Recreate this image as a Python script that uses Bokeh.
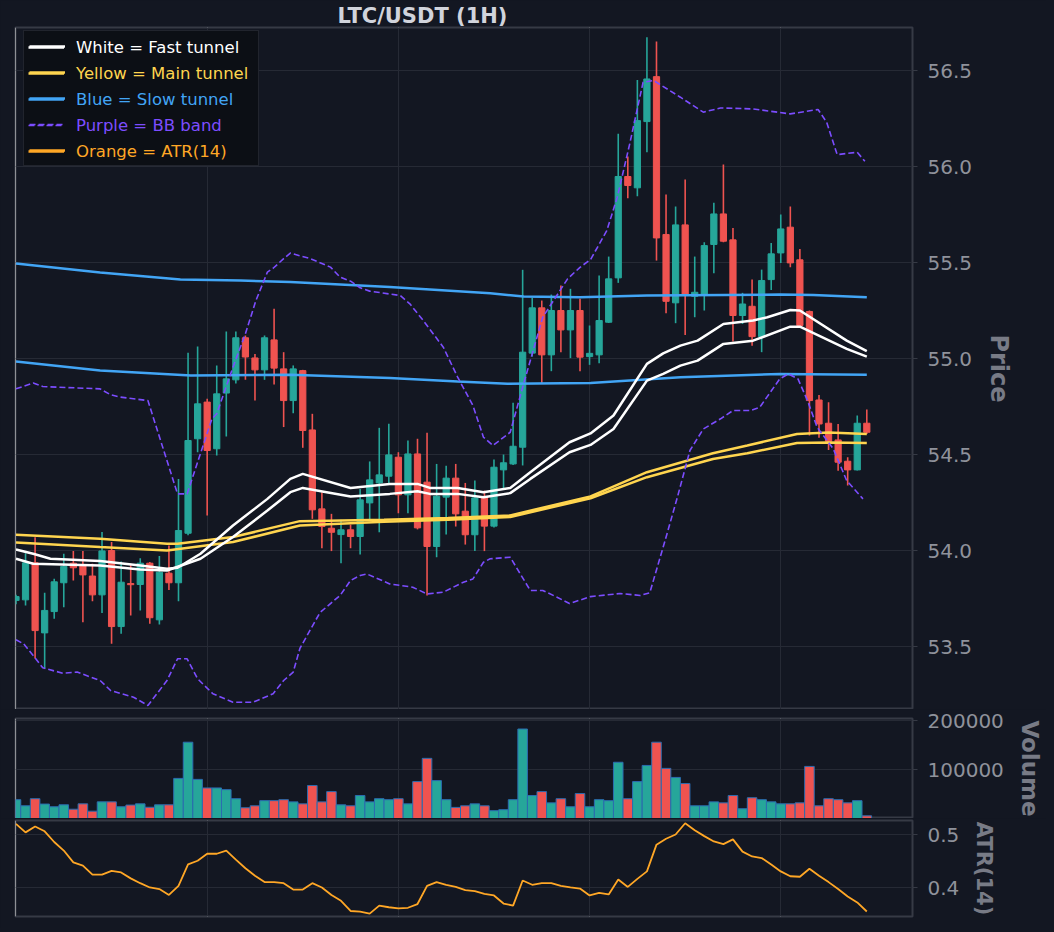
from bokeh.plotting import figure
from bokeh.models import (Range1d, Legend, LegendItem, FixedTicker, Grid,
                          NumeralTickFormatter, ColumnDataSource, GlobalInlineStyleSheet)
from bokeh.layouts import column
from bokeh.embed import file_html
from bokeh.resources import INLINE

# ---------------- data ----------------
idx = list(range(90))
opens = [53.74, 53.743, 53.936, 53.571, 53.682, 53.832, 53.934, 53.926, 53.867, 53.769,
         54.000, 53.604, 53.828, 53.823, 53.934, 53.639, 53.882, 53.832, 54.090, 54.582,
         54.773, 54.530, 54.820, 54.889, 55.108, 55.003, 54.941, 55.097, 54.946, 54.781,
         54.937, 54.628, 54.217, 54.116, 54.083, 54.108, 54.073, 54.248, 54.352, 54.387,
         54.486, 54.290, 54.503, 54.356, 54.021, 54.278, 54.377, 54.205, 54.082, 54.278,
         54.127, 54.420, 54.451, 54.538, 55.028, 55.264, 55.019, 55.250, 55.149, 55.250,
         55.010, 55.019, 55.189, 55.420, 55.948, 55.889, 56.234, 56.468, 55.646, 55.290,
         55.696, 55.324, 55.336, 55.594, 55.753, 55.618, 55.224, 55.272, 55.114, 55.411,
         55.550, 55.684, 55.514, 55.245, 54.784, 54.663, 54.576, 54.465, 54.420, 54.663]
highs = [53.77, 53.986, 54.069, 53.780, 53.853, 53.983, 53.997, 53.997, 53.931, 54.096,
         54.044, 53.943, 53.931, 53.960, 53.940, 53.971, 54.026, 54.373, 55.030, 55.062,
         54.790, 54.964, 55.141, 55.141, 55.120, 55.024, 55.120, 55.259, 55.033, 54.964,
         54.941, 54.712, 54.304, 54.191, 54.160, 54.135, 54.321, 54.464, 54.639, 54.660,
         54.512, 54.573, 54.582, 54.613, 54.451, 54.441, 54.451, 54.352, 54.365, 54.312,
         54.474, 54.500, 54.769, 55.462, 55.316, 55.302, 55.333, 55.380, 55.363, 55.311,
         55.172, 55.432, 55.531, 56.170, 56.052, 56.451, 56.673, 56.651, 55.854, 55.792,
         55.932, 55.531, 55.606, 55.811, 56.010, 55.680, 55.342, 55.411, 55.463, 55.602,
         55.750, 55.792, 55.571, 55.250, 54.810, 54.772, 54.659, 54.486, 54.703, 54.734]
lows = [53.72, 53.714, 53.438, 53.384, 53.644, 53.705, 53.844, 53.627, 53.736, 53.674,
        53.514, 53.566, 53.662, 53.688, 53.618, 53.615, 53.795, 53.736, 54.080, 54.512,
        54.183, 54.495, 54.594, 54.870, 54.889, 54.781, 54.889, 54.865, 54.643, 54.715,
        54.535, 54.165, 54.012, 53.997, 53.934, 54.012, 53.979, 54.160, 54.095, 54.342,
        54.194, 54.194, 54.110, 53.766, 53.965, 54.083, 54.125, 54.031, 53.997, 53.997,
        54.120, 54.321, 54.445, 54.443, 55.010, 54.873, 54.934, 55.033, 55.002, 54.934,
        54.967, 54.975, 55.185, 55.394, 55.835, 55.845, 56.074, 55.510, 55.236, 55.184,
        55.123, 55.215, 55.250, 55.444, 55.606, 55.088, 55.180, 55.067, 55.033, 55.357,
        55.498, 55.475, 55.165, 54.599, 54.587, 54.524, 54.416, 54.338, 54.417, 54.607]
closes = [53.76, 53.936, 53.583, 53.688, 53.837, 53.917, 53.910, 53.873, 53.769, 53.998,
          53.604, 53.835, 53.822, 53.934, 53.650, 53.887, 53.832, 54.104, 54.573, 54.764,
          54.521, 54.816, 54.894, 55.108, 55.008, 54.941, 55.108, 54.950, 54.781, 54.946,
          54.625, 54.212, 54.125, 54.095, 54.108, 54.073, 54.264, 54.368, 54.394, 54.498,
          54.290, 54.503, 54.118, 54.021, 54.283, 54.377, 54.191, 54.082, 54.274, 54.127,
          54.434, 54.457, 54.543, 55.033, 55.264, 55.019, 55.250, 55.149, 55.250, 55.007,
          55.027, 55.198, 55.415, 55.948, 55.901, 56.239, 56.456, 55.628, 55.298, 55.696,
          55.336, 55.345, 55.588, 55.753, 55.611, 55.224, 55.284, 55.114, 55.406, 55.545,
          55.675, 55.498, 55.172, 54.781, 54.659, 54.569, 54.460, 54.420, 54.663, 54.616]
volumes = [38500, 26000, 40500, 29500, 24000, 28000, 19000, 30000, 15000, 34000,
           34000, 24000, 27500, 30000, 23000, 28000, 28000, 82000, 156000, 80000,
           62500, 62500, 59000, 40500, 22000, 26000, 36500, 36500, 38500, 34000,
           30000, 67500, 34000, 55000, 28000, 26000, 47000, 34000, 40500, 38500,
           40500, 30000, 75500, 123000, 77500, 38500, 22700, 26000, 30000, 26000,
           16000, 18000, 38500, 183000, 47000, 55000, 32000, 40500, 24000, 51000,
           24000, 38500, 36500, 115000, 40500, 75500, 108500, 156000, 102500, 84000,
           71500, 26000, 26000, 34000, 32000, 47000, 20000, 42500, 38500, 34000,
           30000, 30000, 32000, 106500, 26000, 40500, 38500, 32000, 36500, 5500]
atr = [0.520, 0.504, 0.515, 0.506, 0.486, 0.470, 0.448, 0.442, 0.425, 0.425,
       0.432, 0.429, 0.418, 0.409, 0.401, 0.398, 0.387, 0.404, 0.444, 0.451,
       0.464, 0.464, 0.470, 0.453, 0.437, 0.423, 0.411, 0.411, 0.409, 0.397,
       0.397, 0.409, 0.401, 0.387, 0.376, 0.357, 0.356, 0.352, 0.367, 0.364,
       0.362, 0.363, 0.370, 0.404, 0.411, 0.406, 0.402, 0.396, 0.394, 0.389,
       0.386, 0.371, 0.367, 0.414, 0.406, 0.409, 0.409, 0.404, 0.401, 0.399,
       0.386, 0.391, 0.388, 0.416, 0.402, 0.417, 0.431, 0.481, 0.492, 0.500,
       0.521, 0.508, 0.497, 0.487, 0.482, 0.491, 0.468, 0.459, 0.456, 0.444,
       0.431, 0.422, 0.421, 0.436, 0.423, 0.411, 0.398, 0.384, 0.373, 0.356]

# tunnel / band lines (x = candle index)
slow_up_x = [0, 8.8, 17.2, 23.5, 28.7, 39.1, 49.6, 53.1, 59.0, 66.0, 79.9, 83.4, 89.0]
slow_up_y = [55.495, 55.448, 55.411, 55.406, 55.398, 55.372, 55.340, 55.323, 55.319, 55.328, 55.333, 55.331, 55.319]
slow_lo_x = [0, 8.8, 18.3, 28.7, 39.1, 46.2, 51.4, 60.1, 69.5, 79.9, 89.0]
slow_lo_y = [54.984, 54.938, 54.911, 54.915, 54.898, 54.880, 54.868, 54.873, 54.902, 54.920, 54.915]

main_up_x = [0, 8.8, 15.8, 16.9, 22.7, 29.7, 38.5, 45.2, 51.7, 60.1, 66.0, 72.9, 76.5, 81.7, 85.0, 89.0]
main_up_y = [54.082, 54.061, 54.035, 54.035, 54.070, 54.153, 54.160, 54.170, 54.183, 54.282, 54.408, 54.507, 54.547, 54.607, 54.615, 54.607]
main_lo_x = [0, 8.8, 15.8, 22.7, 29.7, 38.5, 45.2, 51.7, 60.1, 66.0, 72.9, 76.5, 81.7, 85.0, 89.0]
main_lo_y = [54.042, 54.018, 54.000, 54.044, 54.130, 54.150, 54.160, 54.175, 54.272, 54.382, 54.477, 54.507, 54.560, 54.562, 54.560]

fast_up_x = [0, 1.8, 3.6, 8.8, 13.0, 15.8, 16.9, 19.3, 22.7, 26.3, 28.7, 30.0, 35.0, 39.1, 42.0, 43.3, 46.2,
             48.9, 51.7, 53.8, 57.9, 60.1, 62.5, 66.0, 67.7, 69.5, 71.3, 74.0, 77.1, 78.6, 81.0, 82.0, 86.9, 89.0]
fast_up_y = [54.005, 53.983, 53.957, 53.945, 53.922, 53.905, 53.910, 53.983, 54.130, 54.269, 54.373, 54.399, 54.326,
             54.347, 54.347, 54.326, 54.326, 54.304, 54.326, 54.408, 54.564, 54.610, 54.703, 54.972, 55.027, 55.067,
             55.093, 55.180, 55.198, 55.215, 55.253, 55.250, 55.093, 55.038]
fast_lo_x = [0, 1.8, 8.8, 13.0, 15.8, 19.3, 22.7, 26.3, 28.7, 30.0, 35.0, 39.1, 42.0, 43.3, 46.2, 48.9, 51.7,
             53.8, 57.9, 60.1, 62.5, 66.0, 67.7, 69.5, 71.3, 74.0, 77.1, 81.0, 82.0, 86.9, 89.0]
fast_lo_y = [53.957, 53.931, 53.922, 53.901, 53.896, 53.957, 54.070, 54.208, 54.304, 54.326, 54.281, 54.295,
             54.309, 54.295, 54.295, 54.278, 54.299, 54.373, 54.512, 54.550, 54.633, 54.885, 54.920, 54.963,
             54.989, 55.076, 55.093, 55.166, 55.166, 55.050, 55.010]

bb_up_x = [0, 1.8, 2.8, 8.8, 9.9, 10.9, 13.8, 16.9, 17.9, 19.0, 20.5, 21.0, 22.7, 24.0, 25.1, 26.3, 26.9, 28.0,
           28.7, 30.8, 32.9, 33.9, 35.0, 36.0, 37.0, 40.2, 41.2, 42.6, 44.7, 46.2, 47.8, 48.9, 49.9, 51.7,
           53.1, 55.1, 57.7, 59.0, 60.1, 61.8, 62.9, 64.2, 65.6, 66.7, 69.5, 71.9, 73.7, 77.1, 81.0, 83.9,
           84.8, 85.9, 88.0, 88.8]
bb_up_y = [54.842, 54.872, 54.854, 54.842, 54.811, 54.799, 54.781, 54.295, 54.295, 54.460, 54.686, 54.712,
           54.955, 55.129, 55.302, 55.450, 55.470, 55.520, 55.549, 55.520, 55.476, 55.424, 55.403, 55.368,
           55.351, 55.328, 55.285, 55.198, 55.059, 54.903, 54.755, 54.590, 54.547, 54.616, 54.868, 55.215,
           55.415, 55.475, 55.515, 55.666, 55.840, 56.118, 56.439, 56.448, 56.361, 56.283, 56.305, 56.300,
           56.274, 56.297, 56.231, 56.062, 56.074, 56.027]
bb_lo_x = [0, 0.8, 1.8, 2.8, 4.9, 6.4, 8.8, 9.9, 12.3, 13.8, 15.8, 16.9, 17.9, 19.0, 20.6, 22.7, 24.8, 26.9,
           28.0, 29.0, 29.7, 31.8, 33.9, 35.0, 36.0, 36.7, 39.1, 41.5, 43.0, 44.7, 46.8, 47.8, 48.9, 49.6,
           51.7, 53.8, 55.1, 56.6, 57.9, 60.1, 63.2, 65.3, 66.3, 67.9, 69.2, 70.5, 71.9, 73.7, 75.0, 76.8,
           77.8, 79.9, 80.8, 81.8, 82.8, 83.8, 85.5, 86.9, 88.6]
bb_lo_y = [53.535, 53.514, 53.453, 53.389, 53.361, 53.367, 53.323, 53.271, 53.236, 53.193, 53.323, 53.436,
           53.436, 53.332, 53.254, 53.210, 53.210, 53.254, 53.323, 53.367, 53.490, 53.677, 53.766, 53.844,
           53.870, 53.878, 53.826, 53.809, 53.774, 53.783, 53.835, 53.852, 53.939, 53.957, 53.965, 53.792,
           53.792, 53.757, 53.724, 53.760, 53.776, 53.766, 53.780, 54.052, 54.280, 54.521, 54.633, 54.686,
           54.729, 54.729, 54.746, 54.894, 54.920, 54.894, 54.781, 54.642, 54.529, 54.364, 54.269]

price_ticks = [53.5, 54.0, 54.5, 55.0, 55.5, 56.0, 56.5]
volume_ticks = [100000, 200000]
atr_ticks = [0.4, 0.5]
x_grid_ticks = [20, 40, 60, 80]
title_text = "LTC/USDT (1H)"
legend_labels = ["White = Fast tunnel", "Yellow = Main tunnel", "Blue = Slow tunnel",
                 "Purple = BB band", "Orange = ATR(14)"]

# ---------------- styles ----------------
BG = "#131722"
GRID = "#262a35"
BORDER = "#363a45"
TICK_COL = "#8f929b"
LABEL_COL = "#787b86"
UP = "#26a69a"
DOWN = "#ef5350"
WHITE = "#ffffff"
YELLOW = "#ffd54f"
BLUE = "#42a5f5"
PURPLE = "#7c4dff"
ORANGE = "#ffa726"
FONT = "DejaVu Sans"

colors = [UP if c >= o else DOWN for o, c in zip(opens, closes)]
src = ColumnDataSource(dict(
    x=idx, open=opens, high=highs, low=lows, close=closes,
    top=[max(o, c) for o, c in zip(opens, closes)],
    bottom=[min(o, c) for o, c in zip(opens, closes)],
    color=colors, volume=volumes, atr=atr))

x_range = Range1d(-0.05, 93.78)


def make_fig(frame_h, y_range, ticks, fmt, label, label_size, top_border, bottom_border):
    p = figure(frame_width=897, frame_height=frame_h, x_range=x_range, y_range=y_range,
               x_axis_location=None, y_axis_location="right", toolbar_location=None,
               output_backend="svg", min_border_left=15, min_border_right=134,
               min_border_top=top_border, min_border_bottom=bottom_border,
               background_fill_color=BG, border_fill_color=BG,
               outline_line_color=BORDER, outline_line_width=2)
    ax = p.yaxis[0]
    ax.ticker = FixedTicker(ticks=ticks)
    ax.formatter = NumeralTickFormatter(format=fmt)
    ax.axis_line_color = None
    ax.major_tick_line_color = BORDER
    ax.major_tick_out = 5
    ax.major_tick_in = 0
    ax.minor_tick_line_color = None
    ax.major_label_text_color = TICK_COL
    ax.major_label_text_font = FONT
    ax.major_label_text_font_size = "20px"
    ax.major_label_standoff = 10
    ax.axis_label = label
    ax.axis_label_text_font = FONT
    ax.axis_label_text_font_size = label_size
    ax.axis_label_text_font_style = "bold"
    ax.axis_label_text_color = LABEL_COL
    ax.axis_label_standoff = 10
    p.ygrid.grid_line_color = GRID
    p.ygrid.grid_line_width = 1
    p.add_layout(Grid(dimension=0, ticker=FixedTicker(ticks=x_grid_ticks),
                      grid_line_color=GRID, grid_line_width=1))
    return p


# ---------------- price panel ----------------
PRICE_FRAME_H = 682
p1 = make_fig(PRICE_FRAME_H, Range1d(53.172, 56.724), price_ticks, "0.0", "Price", "24px", 27, 0)
p1.title.text = title_text
p1.title.align = "left"
p1.title.offset = 322
p1.title.standoff = 0
p1.title.text_font = FONT
p1.title.text_font_size = "21px"
p1.title.text_font_style = "bold"
p1.title.text_color = "#d1d4dc"

p1.segment(x0="x", y0="low", x1="x", y1="high", source=src, line_color="color", line_width=1.6)
p1.vbar(x="x", top="top", bottom="bottom", width=0.65, source=src,
        fill_color="color", line_color="color", line_width=1)

r_slow = p1.line(slow_up_x, slow_up_y, line_color=BLUE, line_width=2.5)
p1.line(slow_lo_x, slow_lo_y, line_color=BLUE, line_width=2.5)
r_main = p1.line(main_up_x, main_up_y, line_color=YELLOW, line_width=2.5)
p1.line(main_lo_x, main_lo_y, line_color=YELLOW, line_width=2.5)
r_fast = p1.line(fast_up_x, fast_up_y, line_color=WHITE, line_width=2.5)
p1.line(fast_lo_x, fast_lo_y, line_color=WHITE, line_width=2.5)
r_bb = p1.line(bb_up_x, bb_up_y, line_color=PURPLE, line_width=1.6, line_dash="6 3")
p1.line(bb_lo_x, bb_lo_y, line_color=PURPLE, line_width=1.6, line_dash="6 3")
# legend-only stand-in for the ATR line (drawn in the lower panel)
r_atr_key = p1.line(x=[0], y=[float("nan")], line_color=ORANGE, line_width=2.5)

legend_renderers = [r_fast, r_main, r_slow, r_bb, r_atr_key]
legend_colors = [WHITE, YELLOW, BLUE, PURPLE, ORANGE]
common = dict(padding=5, spacing=6, glyph_width=36, glyph_height=20, label_height=20,
              label_width=176, label_standoff=12, label_text_font=FONT,
              label_text_font_size="16.5px")

LEG_X = 8        # px from frame left
LEG_TOP = 5      # px below frame top
LEG_H = 5 * 20 + 4 * 6 + 2 * 5

# background box with the line keys
bg_legend = Legend(items=[LegendItem(label=t, renderers=[r]) for t, r in zip(legend_labels, legend_renderers)],
                   location=(LEG_X, PRICE_FRAME_H - LEG_TOP - LEG_H), label_text_alpha=0,
                   background_fill_color="#0c0f15", background_fill_alpha=1,
                   border_line_color=BORDER, border_line_width=1.5, **common)
p1.add_layout(bg_legend)

# one transparent legend per row so each label keeps its own colour
for i, (t, r, col) in enumerate(zip(legend_labels, legend_renderers, legend_colors)):
    row_top = LEG_TOP + 26 * i
    lg = Legend(items=[LegendItem(label=t, renderers=[r])],
                location=(LEG_X, PRICE_FRAME_H - row_top - 30),
                label_text_color=col, background_fill_alpha=0, border_line_alpha=0,
                **common)
    p1.add_layout(lg)

# ---------------- volume panel ----------------
p2 = make_fig(100, Range1d(0, 204500), volume_ticks, "0", "Volume", "23px", 9, 0)
p2.vbar(x="x", top="volume", bottom=0, width=1.0, source=src,
        fill_color="color", line_color="#2b6cb0", line_width=1)

# ---------------- ATR panel ----------------
p3 = make_fig(96, Range1d(0.3467, 0.5262), atr_ticks, "0.0", "ATR(14)", "21px", 2, 12)
p3.line(x="x", y="atr", source=src, line_color=ORANGE, line_width=1.8)

layout = column(p1, p2, p3, spacing=0,
                stylesheets=[GlobalInlineStyleSheet(css="body { background: #131722; }")])

open("out.html", "w").write(file_html(layout, INLINE))
